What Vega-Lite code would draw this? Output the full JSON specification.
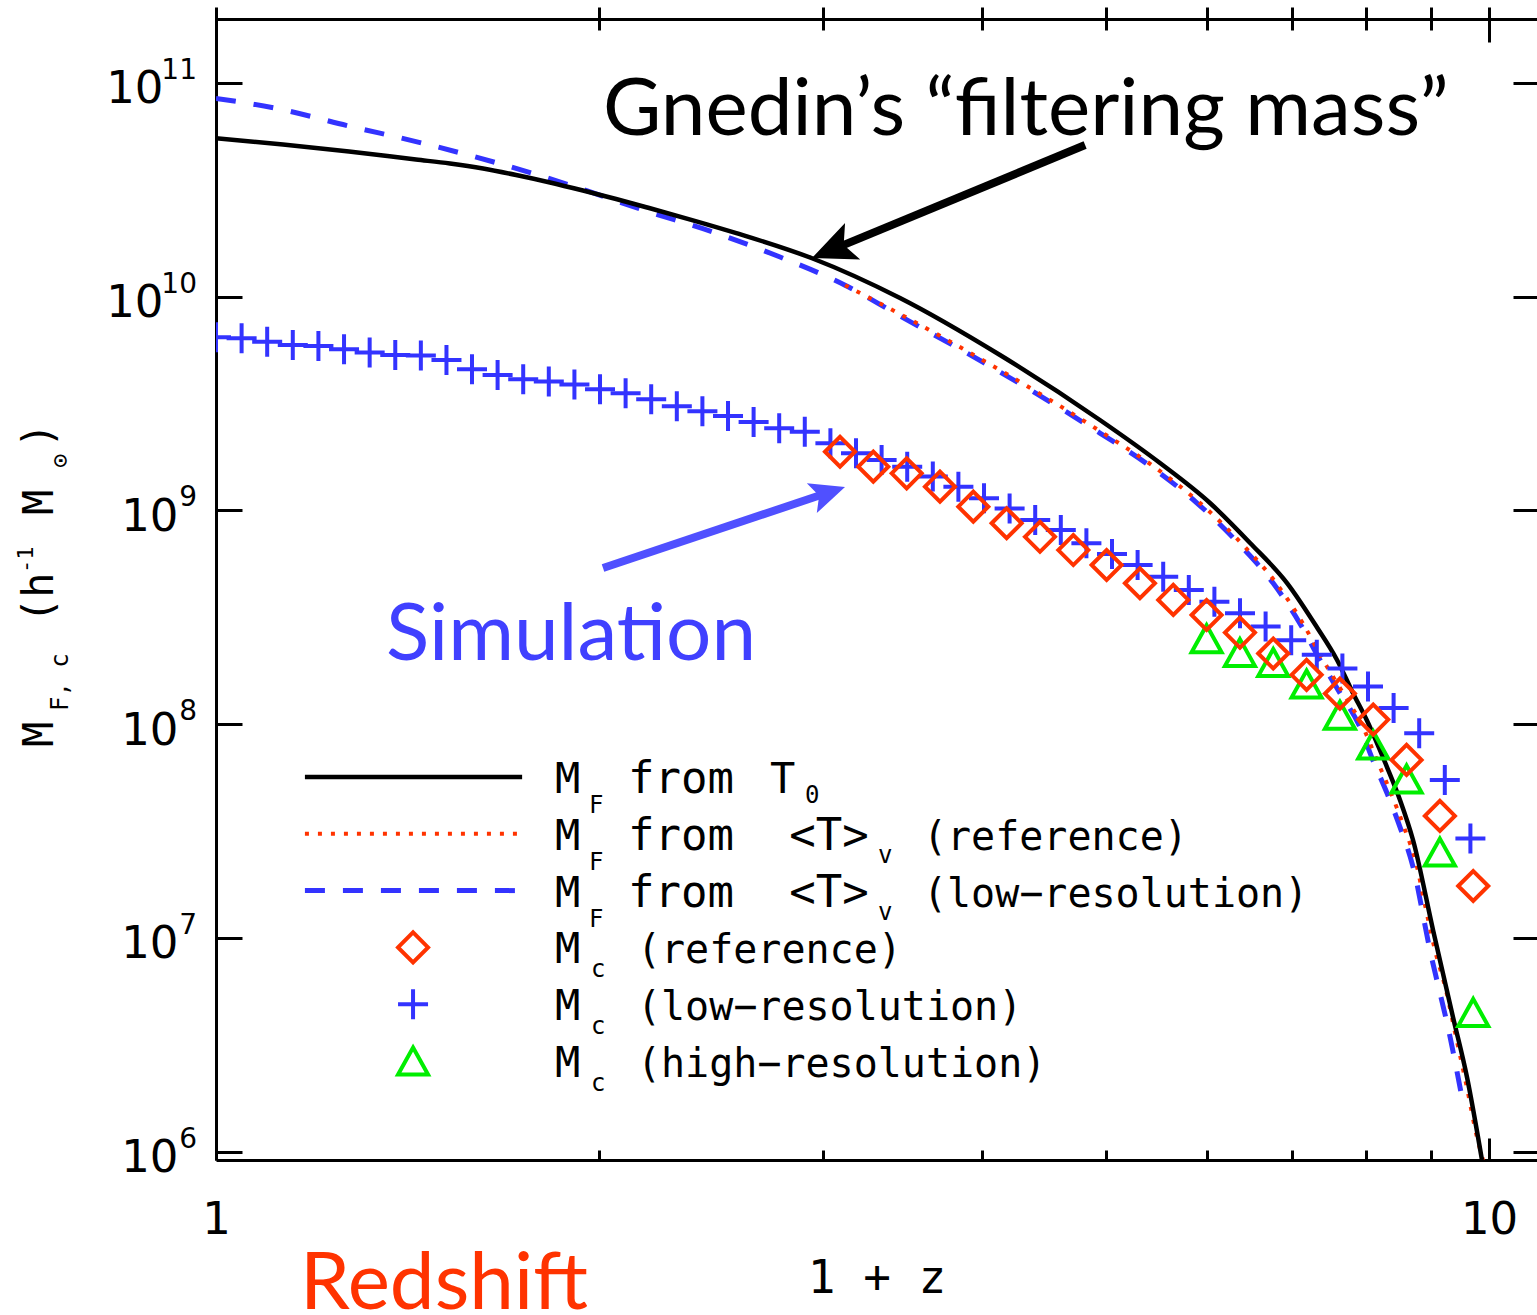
{
  "$schema": "https://vega.github.io/schema/vega-lite/v6.json",
  "width": 1321,
  "height": 1153,
  "autosize": "none",
  "padding": {"left": 216, "top": 7, "right": 0, "bottom": 155},
  "background": "white",
  "config": {
    "view": {"stroke": null},
    "axis": {
      "grid": false,
      "domainColor": "black",
      "tickColor": "black",
      "domainWidth": 3,
      "tickWidth": 3,
      "labelColor": "black",
      "titleColor": "black"
    }
  },
  "datasets": {
    "mf_t0": [
      {"x": 1.000, "y": 5.50e10}, {"x": 1.1289, "y": 5.139e10}, {"x": 1.272, "y": 4.767e10},
      {"x": 1.4357, "y": 4.373e10}, {"x": 1.5268, "y": 4.189e10}, {"x": 1.621, "y": 3.969e10},
      {"x": 1.7210, "y": 3.701e10}, {"x": 1.8296, "y": 3.415e10}, {"x": 1.942, "y": 3.132e10},
      {"x": 2.0620, "y": 2.858e10}, {"x": 2.189, "y": 2.594e10}, {"x": 2.3659, "y": 2.279e10},
      {"x": 2.563, "y": 1.98e10}, {"x": 2.939, "y": 1.51e10}, {"x": 3.446, "y": 9.84e9},
      {"x": 4.129, "y": 5.325e9}, {"x": 4.947, "y": 2.645e9}, {"x": 5.515, "y": 1.664e9},
      {"x": 6.037, "y": 1.082e9}, {"x": 6.491, "y": 7.034e8}, {"x": 6.940, "y": 4.57e8},
      {"x": 7.325, "y": 2.84e8}, {"x": 7.595, "y": 2.00e8}, {"x": 7.818, "y": 1.40e8},
      {"x": 8.019, "y": 1.04e8}, {"x": 8.315, "y": 6.30e7}, {"x": 8.513, "y": 4.42e7},
      {"x": 8.716, "y": 2.87e7}, {"x": 9.037, "y": 1.09e7}, {"x": 9.369, "y": 4.27e6},
      {"x": 9.610, "y": 2.23e6}, {"x": 9.874, "y": 9.14e5}
    ],
    "mf_low": [
      {"x": 1.000, "y": 8.45e10}, {"x": 1.115, "y": 7.59e10}, {"x": 1.272, "y": 6.27e10},
      {"x": 1.454, "y": 5.21e10}, {"x": 1.659, "y": 4.23e10}, {"x": 1.894, "y": 3.33e10},
      {"x": 2.165, "y": 2.54e10}, {"x": 2.471, "y": 1.98e10}, {"x": 2.774, "y": 1.53e10},
      {"x": 3.120, "y": 1.13e10}, {"x": 3.446, "y": 8.11e9}, {"x": 4.129, "y": 4.44e9},
      {"x": 4.947, "y": 2.299e9}, {"x": 5.4163, "y": 1.612e9}, {"x": 5.897, "y": 1.082e9},
      {"x": 6.374, "y": 6.88e8}, {"x": 6.767, "y": 4.57e8}, {"x": 7.105, "y": 2.95e8},
      {"x": 7.365, "y": 2.00e8}, {"x": 7.636, "y": 1.40e8}, {"x": 7.917, "y": 9.71e7},
      {"x": 8.105, "y": 6.79e7}, {"x": 8.315, "y": 4.76e7}, {"x": 8.513, "y": 3.30e7},
      {"x": 8.716, "y": 2.15e7}, {"x": 8.987, "y": 8.77e6}, {"x": 9.320, "y": 3.44e6},
      {"x": 9.541, "y": 1.69e6}
    ],
    "mf_ref": [
      {"x": 3.120, "y": 1.13e10}, {"x": 3.446, "y": 8.28e9}, {"x": 4.129, "y": 4.53e9},
      {"x": 4.947, "y": 2.349e9}, {"x": 5.4458, "y": 1.612e9}, {"x": 5.929, "y": 1.082e9},
      {"x": 6.409, "y": 6.88e8}, {"x": 6.804, "y": 4.57e8}, {"x": 7.144, "y": 2.95e8},
      {"x": 7.405, "y": 2.00e8}, {"x": 7.678, "y": 1.40e8}, {"x": 7.960, "y": 9.71e7},
      {"x": 8.165, "y": 6.79e7}, {"x": 8.375, "y": 4.76e7}, {"x": 8.575, "y": 3.30e7},
      {"x": 8.779, "y": 2.15e7}, {"x": 8.891, "y": 1.50e7}, {"x": 9.069, "y": 8.77e6},
      {"x": 9.251, "y": 5.70e6}, {"x": 9.421, "y": 3.44e6}, {"x": 9.593, "y": 2.09e6},
      {"x": 9.785, "y": 1.17e6}, {"x": 9.892, "y": 9.14e5}
    ],
    "mc_low": [
      {"x": 1.0000, "y": 6.45e9}, {"x": 1.0474, "y": 6.38e9}, {"x": 1.0970, "y": 6.15e9},
      {"x": 1.1490, "y": 5.93e9}, {"x": 1.2035, "y": 5.87e9}, {"x": 1.2606, "y": 5.66e9},
      {"x": 1.3204, "y": 5.48e9}, {"x": 1.3830, "y": 5.33e9}, {"x": 1.4485, "y": 5.30e9},
      {"x": 1.5172, "y": 5.05e9}, {"x": 1.5889, "y": 4.57e9}, {"x": 1.6642, "y": 4.29e9},
      {"x": 1.7431, "y": 4.10e9}, {"x": 1.8257, "y": 4.00e9}, {"x": 1.9123, "y": 3.88e9},
      {"x": 2.0029, "y": 3.68e9}, {"x": 2.0978, "y": 3.53e9}, {"x": 2.1972, "y": 3.31e9},
      {"x": 2.3014, "y": 3.07e9}, {"x": 2.4104, "y": 2.91e9}, {"x": 2.5247, "y": 2.76e9},
      {"x": 2.6443, "y": 2.59e9}, {"x": 2.7696, "y": 2.42e9}, {"x": 2.9008, "y": 2.33e9},
      {"x": 3.0384, "y": 2.06e9}, {"x": 3.1824, "y": 1.85e9}, {"x": 3.3332, "y": 1.72e9},
      {"x": 3.4912, "y": 1.60e9}, {"x": 3.6567, "y": 1.44e9}, {"x": 3.8299, "y": 1.29e9},
      {"x": 4.0115, "y": 1.14e9}, {"x": 4.2016, "y": 1.02e9}, {"x": 4.4007, "y": 9.01e8},
      {"x": 4.6093, "y": 8.09e8}, {"x": 4.8277, "y": 7.01e8}, {"x": 5.0565, "y": 6.25e8},
      {"x": 5.2962, "y": 5.55e8}, {"x": 5.5472, "y": 4.89e8}, {"x": 5.8100, "y": 4.24e8},
      {"x": 6.0854, "y": 3.74e8}, {"x": 6.3738, "y": 3.30e8}, {"x": 6.6759, "y": 2.86e8},
      {"x": 6.9923, "y": 2.47e8}, {"x": 7.3237, "y": 2.11e8}, {"x": 7.6708, "y": 1.82e8},
      {"x": 8.0343, "y": 1.50e8}, {"x": 8.4151, "y": 1.19e8}, {"x": 8.8139, "y": 9.06e7},
      {"x": 9.2316, "y": 5.48e7}, {"x": 9.6692, "y": 2.92e7}
    ],
    "mc_ref": [
      {"x": 3.0916, "y": 1.88e9}, {"x": 3.2836, "y": 1.60e9}, {"x": 3.4878, "y": 1.49e9},
      {"x": 3.7044, "y": 1.29e9}, {"x": 3.9347, "y": 1.04e9}, {"x": 4.1791, "y": 8.70e8},
      {"x": 4.4388, "y": 7.52e8}, {"x": 4.7146, "y": 6.52e8}, {"x": 5.0075, "y": 5.55e8},
      {"x": 5.3186, "y": 4.56e8}, {"x": 5.6491, "y": 3.81e8}, {"x": 6.0001, "y": 3.24e8},
      {"x": 6.3730, "y": 2.68e8}, {"x": 6.7689, "y": 2.14e8}, {"x": 7.1896, "y": 1.70e8},
      {"x": 7.6362, "y": 1.39e8}, {"x": 8.1107, "y": 1.05e8}, {"x": 8.6147, "y": 6.80e7},
      {"x": 9.1500, "y": 3.72e7}, {"x": 9.7185, "y": 1.75e7}
    ],
    "mc_high": [
      {"x": 6.0001, "y": 2.51e8}, {"x": 6.3730, "y": 2.16e8}, {"x": 6.7689, "y": 1.94e8},
      {"x": 7.1896, "y": 1.54e8}, {"x": 7.6362, "y": 1.10e8}, {"x": 8.1107, "y": 7.99e7},
      {"x": 8.6147, "y": 5.54e7}, {"x": 9.1500, "y": 2.52e7}, {"x": 9.7185, "y": 4.48e6}
    ],
    "decades": [
      {"v": 1e11, "e": "11"}, {"v": 1e10, "e": "10"}, {"v": 1e9, "e": "9"},
      {"v": 1e8, "e": "8"}, {"v": 1e7, "e": "7"}, {"v": 1e6, "e": "6"}
    ],
    "legend": [
      {"entry": "mf_t0", "sub": "F", "from": "from", "temp": "T", "tsub": "0", "desc": ""},
      {"entry": "mf_ref", "sub": "F", "from": "from", "temp": "<T>", "tsub": "v", "desc": "(reference)"},
      {"entry": "mf_low", "sub": "F", "from": "from", "temp": "<T>", "tsub": "v", "desc": "(low−resolution)"},
      {"entry": "mc_ref", "sub": "c", "from": "", "temp": "", "tsub": "", "desc": "(reference)"},
      {"entry": "mc_low", "sub": "c", "from": "", "temp": "", "tsub": "", "desc": "(low−resolution)"},
      {"entry": "mc_high", "sub": "c", "from": "", "temp": "", "tsub": "", "desc": "(high−resolution)"}
    ]
  },
  "resolve": {"scale": {"y": "independent"}, "axis": {"x": "independent", "y": "independent"}},
  "layer": [
    {
      "resolve": {"axis": {"x": "independent", "y": "independent"}},
      "layer": [
        {
          "data": {"name": "mf_low"},
          "mark": {"type": "line", "clip": true, "interpolate": "monotone", "color": "#3333ff", "strokeWidth": 5, "strokeDash": [20, 18]},
          "encoding": {
            "x": {
              "field": "x", "type": "quantitative",
              "scale": {"type": "log", "domain": [1, 10.907], "nice": false},
              "axis": {"orient": "top", "values": [2, 3, 4, 5, 6, 7, 8, 9], "labels": false, "domain": false, "tickSize": -23, "title": null}
            },
            "y": {
              "field": "y", "type": "quantitative",
              "scale": {"type": "log", "domain": [914700, 226050000000], "nice": false},
              "axis": {"orient": "right", "values": [1e6, 1e7, 1e8, 1e9, 1e10, 1e11], "labels": false, "domain": false, "tickSize": -24, "title": null}
            }
          }
        },
        {
          "data": {"name": "mf_ref"},
          "mark": {"type": "line", "clip": true, "interpolate": "monotone", "color": "#ff3300", "strokeWidth": 4, "strokeDash": [4, 9]},
          "encoding": {
            "x": {"field": "x", "type": "quantitative",
              "axis": {"orient": "top", "values": [10], "labels": false, "domain": false, "tickSize": -35, "title": null}},
            "y": {"field": "y", "type": "quantitative", "axis": null}
          }
        },
        {
          "data": {"name": "mf_t0"},
          "mark": {"type": "line", "clip": true, "interpolate": "monotone", "color": "black", "strokeWidth": 4.5},
          "encoding": {
            "x": {"field": "x", "type": "quantitative",
              "axis": {
                "orient": "bottom", "values": [1, 10], "tickSize": -22,
                "labelExpr": "datum.value == 1 ? '1' : '10'",
                "labelFont": "DejaVu Sans", "labelFontSize": 45, "labelPadding": 59, "labelFlush": false,
                "title": "1 + z", "titleFont": "DejaVu Sans Mono", "titleFontSize": 46, "titleFontWeight": "normal", "titlePadding": 14
              }},
            "y": {"field": "y", "type": "quantitative",
              "axis": {
                "orient": "left", "values": [1e6, 1e7, 1e8, 1e9, 1e10, 1e11], "tickSize": -26,
                "labelExpr": "'10'",
                "labelFont": "DejaVu Sans", "labelFontSize": 45,
                "labelPadding": {"condition": {"test": "datum.value >= 1e10", "value": 79}, "value": 64},
                "labelOffset": 6, "labelFlush": false,
                "title": null
              }}
          }
        },
        {
          "data": {"name": "decades"},
          "mark": {"type": "text", "font": "DejaVu Sans", "fontSize": 28, "align": "right", "baseline": "alphabetic", "dx": -19, "dy": -4, "color": "black", "clip": false},
          "encoding": {
            "x": {"datum": 1, "axis": null},
            "y": {"field": "v", "type": "quantitative", "axis": null},
            "text": {"field": "e"}
          }
        },
        {
          "data": {"name": "mc_low"},
          "mark": {"type": "point", "clip": true, "shape": "M-1,0L1,0M0,-1L0,1", "filled": false, "color": "#3333ff", "strokeWidth": 4, "size": 900, "opacity": 1},
          "encoding": {
            "x": {"field": "x", "type": "quantitative",
              "axis": {"orient": "bottom", "values": [2, 3, 4, 5, 6, 7, 8, 9], "labels": false, "domain": false, "tickSize": -10, "title": null}},
            "y": {"field": "y", "type": "quantitative", "axis": null}
          }
        },
        {
          "data": {"name": "mc_high"},
          "mark": {"type": "point", "shape": "M0,-0.9L1,0.9L-1,0.9Z", "filled": false, "color": "#00ee00", "strokeWidth": 4, "size": 900, "opacity": 1},
          "encoding": {
            "x": {"field": "x", "type": "quantitative",
              "axis": {"orient": "top", "offset": -12, "ticks": false, "labels": false, "domain": true, "title": null}},
            "y": {"field": "y", "type": "quantitative", "axis": null}
          }
        },
        {
          "data": {"name": "mc_ref"},
          "mark": {"type": "point", "shape": "diamond", "filled": false, "color": "#ff3300", "strokeWidth": 4, "size": 900, "opacity": 1},
          "encoding": {
            "x": {"field": "x", "type": "quantitative", "axis": null},
            "y": {"field": "y", "type": "quantitative", "axis": null}
          }
        },
        {
          "data": {"values": [{}]},
          "mark": {"type": "rule", "color": "black", "strokeWidth": 8},
          "encoding": {
            "x": {"datum": 4.8165, "axis": null}, "y": {"datum": 5.112e10, "axis": null},
            "x2": {"datum": 3.0389}, "y2": {"datum": 1.643e10}
          }
        },
        {
          "data": {"values": [{}]},
          "mark": {"type": "point", "shape": "M0,0L0.45,1L0,0.78L-0.45,1Z", "filled": true, "color": "black", "opacity": 1, "size": 7744, "angle": 247.5, "strokeWidth": 0},
          "encoding": {"x": {"datum": 2.9388, "axis": null}, "y": {"datum": 1.514e10, "axis": null}}
        },
        {
          "data": {"values": [{}]},
          "mark": {"type": "rule", "color": "#5050ff", "strokeWidth": 8},
          "encoding": {
            "x": {"datum": 2.0138, "axis": null}, "y": {"datum": 5.373e8, "axis": null},
            "x2": {"datum": 3.0143}, "y2": {"datum": 1.201e9}
          }
        },
        {
          "data": {"values": [{}]},
          "mark": {"type": "point", "shape": "M0,0L0.45,1L0,0.78L-0.45,1Z", "filled": true, "color": "#5050ff", "opacity": 1, "size": 4900, "angle": 71.5, "strokeWidth": 0},
          "encoding": {"x": {"datum": 3.1197, "axis": null}, "y": {"datum": 1.285e9, "axis": null}}
        },
        {
          "data": {"values": [{}]},
          "mark": {"type": "text", "text": "Gnedin’s “filtering mass”", "font": "Lato", "fontSize": 80, "align": "center", "baseline": "alphabetic", "color": "black"},
          "encoding": {"x": {"datum": 4.3275, "axis": null}, "y": {"datum": 5.694e10, "axis": null}}
        },
        {
          "data": {"values": [{}]},
          "mark": {"type": "text", "text": "Simulation", "font": "Lato", "fontSize": 80, "align": "center", "baseline": "alphabetic", "color": "#4040ff"},
          "encoding": {"x": {"datum": 1.9005, "axis": null}, "y": {"datum": 1.9943e8, "axis": null}}
        },
        {
          "data": {"values": [{}]},
          "mark": {"type": "text", "text": "Redshift", "font": "Lato", "fontSize": 80, "align": "center", "baseline": "alphabetic", "color": "#ff3300"},
          "encoding": {"x": {"datum": 1.5105, "axis": null}, "y": {"datum": 1.838e5, "axis": null}}
        },
        {
          "data": {"values": [{}]},
          "mark": {"type": "text", "text": "M", "font": "DejaVu Sans Mono", "fontSize": 42, "angle": 270, "align": "left", "baseline": "alphabetic", "dx": 0, "dy": 0, "color": "black"},
          "encoding": {"x": {"datum": 0.7447, "axis": null}, "y": {"datum": 7.813e7, "axis": null}}
        },
        {
          "data": {"values": [{}]},
          "mark": {"type": "text", "text": "F, c", "font": "DejaVu Sans Mono", "fontSize": 24, "angle": 270, "align": "left", "baseline": "alphabetic", "dx": 36, "dy": 15, "color": "black"},
          "encoding": {"x": {"datum": 0.7447, "axis": null}, "y": {"datum": 7.813e7, "axis": null}}
        },
        {
          "data": {"values": [{}]},
          "mark": {"type": "text", "text": "(h", "font": "DejaVu Sans Mono", "fontSize": 42, "angle": 270, "align": "left", "baseline": "alphabetic", "dx": 124, "dy": 0, "color": "black"},
          "encoding": {"x": {"datum": 0.7447, "axis": null}, "y": {"datum": 7.813e7, "axis": null}}
        },
        {
          "data": {"values": [{}]},
          "mark": {"type": "text", "text": "-1", "font": "DejaVu Sans Mono", "fontSize": 22, "angle": 270, "align": "left", "baseline": "alphabetic", "dx": 174, "dy": -20, "color": "black"},
          "encoding": {"x": {"datum": 0.7447, "axis": null}, "y": {"datum": 7.813e7, "axis": null}}
        },
        {
          "data": {"values": [{}]},
          "mark": {"type": "text", "text": "M", "font": "DejaVu Sans Mono", "fontSize": 42, "angle": 270, "align": "left", "baseline": "alphabetic", "dx": 232, "dy": 0, "color": "black"},
          "encoding": {"x": {"datum": 0.7447, "axis": null}, "y": {"datum": 7.813e7, "axis": null}}
        },
        {
          "data": {"values": [{}]},
          "mark": {"type": "text", "text": "⊙", "font": "DejaVu Sans Mono", "fontSize": 24, "angle": 270, "align": "left", "baseline": "alphabetic", "dx": 279, "dy": 15, "color": "black"},
          "encoding": {"x": {"datum": 0.7447, "axis": null}, "y": {"datum": 7.813e7, "axis": null}}
        },
        {
          "data": {"values": [{}]},
          "mark": {"type": "text", "text": ")", "font": "DejaVu Sans Mono", "fontSize": 42, "angle": 270, "align": "left", "baseline": "alphabetic", "dx": 299, "dy": 0, "color": "black"},
          "encoding": {"x": {"datum": 0.7447, "axis": null}, "y": {"datum": 7.813e7, "axis": null}}
        }
      ]
    },
    {
      "data": {"name": "legend"},
      "encoding": {
        "y": {
          "field": "entry", "type": "nominal",
          "scale": {"type": "point", "domain": ["mf_t0", "mf_ref", "mf_low", "mc_ref", "mc_low", "mc_high"], "range": [770, 1054], "padding": 0},
          "axis": null
        }
      },
      "layer": [
        {
          "transform": [{"filter": "datum.entry == 'mf_t0'"}],
          "mark": {"type": "rule", "color": "black", "strokeWidth": 4.5},
          "encoding": {"x": {"datum": 1.1745, "axis": null}, "x2": {"datum": 1.7397}}
        },
        {
          "transform": [{"filter": "datum.entry == 'mf_ref'"}],
          "mark": {"type": "rule", "color": "#ff3300", "strokeWidth": 4, "strokeDash": [4, 9]},
          "encoding": {"x": {"datum": 1.1745, "axis": null}, "x2": {"datum": 1.7397}}
        },
        {
          "transform": [{"filter": "datum.entry == 'mf_low'"}],
          "mark": {"type": "rule", "color": "#3333ff", "strokeWidth": 5, "strokeDash": [20, 18]},
          "encoding": {"x": {"datum": 1.1745, "axis": null}, "x2": {"datum": 1.7397}}
        },
        {
          "transform": [{"filter": "datum.entry == 'mc_ref'"}],
          "mark": {"type": "point", "shape": "diamond", "filled": false, "color": "#ff3300", "strokeWidth": 4, "size": 900, "opacity": 1},
          "encoding": {"x": {"datum": 1.4282, "axis": null}}
        },
        {
          "transform": [{"filter": "datum.entry == 'mc_low'"}],
          "mark": {"type": "point", "shape": "M-1,0L1,0M0,-1L0,1", "filled": false, "color": "#3333ff", "strokeWidth": 4, "size": 900, "opacity": 1},
          "encoding": {"x": {"datum": 1.4282, "axis": null}}
        },
        {
          "transform": [{"filter": "datum.entry == 'mc_high'"}],
          "mark": {"type": "point", "shape": "M0,-0.9L1,0.9L-1,0.9Z", "filled": false, "color": "#00ee00", "strokeWidth": 4, "size": 900, "opacity": 1},
          "encoding": {"x": {"datum": 1.4282, "axis": null}}
        },
        {
          "mark": {"type": "text", "text": "M", "font": "DejaVu Sans Mono", "fontSize": 42, "align": "left", "baseline": "alphabetic", "dx": -2, "dy": 16, "color": "black"},
          "encoding": {"x": {"datum": 1.8527, "axis": null}}
        },
        {
          "transform": [{"filter": "datum.sub == 'F'"}],
          "mark": {"type": "text", "font": "DejaVu Sans Mono", "fontSize": 24, "align": "left", "baseline": "alphabetic", "dx": 32, "dy": 36, "color": "black"},
          "encoding": {"x": {"datum": 1.8527, "axis": null}, "text": {"field": "sub"}}
        },
        {
          "transform": [{"filter": "datum.sub == 'c'"}],
          "mark": {"type": "text", "font": "DejaVu Sans Mono", "fontSize": 24, "align": "left", "baseline": "alphabetic", "dx": 34, "dy": 30, "color": "black"},
          "encoding": {"x": {"datum": 1.8527, "axis": null}, "text": {"field": "sub"}}
        },
        {
          "transform": [{"filter": "datum.from != ''"}],
          "mark": {"type": "text", "font": "DejaVu Sans Mono", "fontSize": 44, "align": "left", "baseline": "alphabetic", "dx": 71, "dy": 16, "color": "black"},
          "encoding": {"x": {"datum": 1.8527, "axis": null}, "text": {"field": "from"}}
        },
        {
          "transform": [{"filter": "datum.temp == 'T'"}],
          "mark": {"type": "text", "font": "DejaVu Sans Mono", "fontSize": 42, "align": "left", "baseline": "alphabetic", "dx": 213, "dy": 16, "color": "black"},
          "encoding": {"x": {"datum": 1.8527, "axis": null}, "text": {"field": "temp"}}
        },
        {
          "transform": [{"filter": "datum.tsub == '0'"}],
          "mark": {"type": "text", "font": "DejaVu Sans Mono", "fontSize": 24, "align": "left", "baseline": "alphabetic", "dx": 248, "dy": 26, "color": "black"},
          "encoding": {"x": {"datum": 1.8527, "axis": null}, "text": {"field": "tsub"}}
        },
        {
          "transform": [{"filter": "datum.temp == '<T>'"}],
          "mark": {"type": "text", "font": "DejaVu Sans Mono", "fontSize": 44, "align": "center", "baseline": "alphabetic", "dx": 272, "dy": 16, "color": "black"},
          "encoding": {"x": {"datum": 1.8527, "axis": null}, "text": {"field": "temp"}}
        },
        {
          "transform": [{"filter": "datum.tsub == 'v'"}],
          "mark": {"type": "text", "font": "DejaVu Sans Mono", "fontSize": 24, "align": "left", "baseline": "alphabetic", "dx": 321, "dy": 29, "color": "black"},
          "encoding": {"x": {"datum": 1.8527, "axis": null}, "text": {"field": "tsub"}}
        },
        {
          "transform": [{"filter": "datum.temp == '<T>'"}],
          "mark": {"type": "text", "font": "DejaVu Sans Mono", "fontSize": 40, "align": "left", "baseline": "alphabetic", "dx": 366, "dy": 16, "color": "black"},
          "encoding": {"x": {"datum": 1.8527, "axis": null}, "text": {"field": "desc"}}
        },
        {
          "transform": [{"filter": "datum.sub == 'c'"}],
          "mark": {"type": "text", "font": "DejaVu Sans Mono", "fontSize": 40, "align": "left", "baseline": "alphabetic", "dx": 80, "dy": 16, "color": "black"},
          "encoding": {"x": {"datum": 1.8527, "axis": null}, "text": {"field": "desc"}}
        }
      ]
    }
  ]
}
